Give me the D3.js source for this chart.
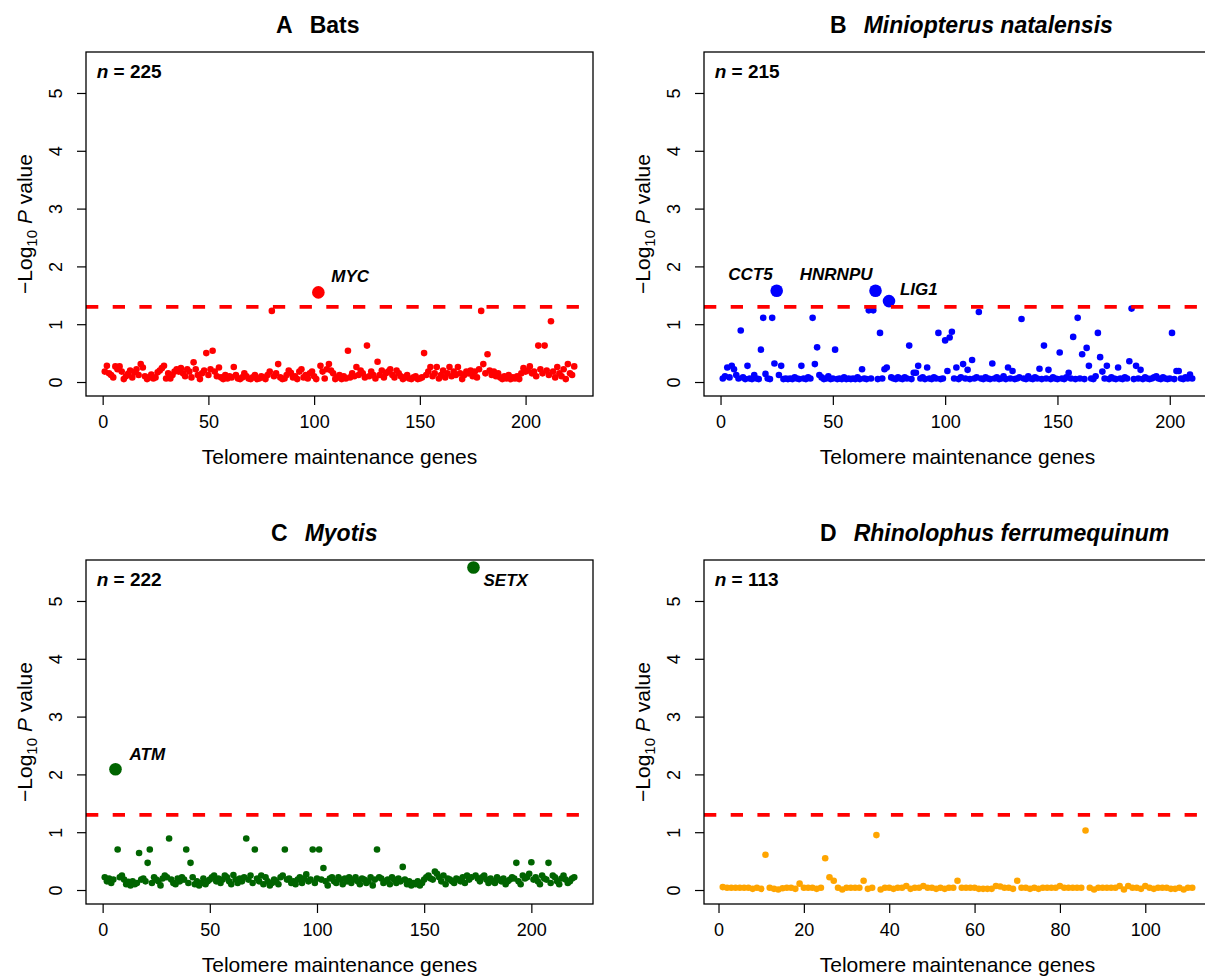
<!DOCTYPE html>
<html>
<head>
<meta charset="utf-8">
<script src="https://cdn.jsdelivr.net/npm/d3@7"></script>
<style>
  body { margin: 0; background: #fff; }
  svg text { font-family: "Liberation Sans", Arial, sans-serif; }
</style>
</head>
<body>
<div id="chart"></div>
<script>
// -log10 P values, one per telomere maintenance gene (gene index = position + 1)
const batsValues = [
  0.18, 0.28, 0.15, 0.12, 0.08, 0.27, 0.22, 0.27, 0.18, 0.05,
  0.10, 0.14, 0.20, 0.08, 0.17, 0.22, 0.12, 0.31, 0.25, 0.10,
  0.05, 0.08, 0.13, 0.06, 0.08, 0.17, 0.20, 0.24, 0.28, 0.06,
  0.15, 0.06, 0.12, 0.18, 0.22, 0.18, 0.24, 0.15, 0.10, 0.22,
  0.18, 0.08, 0.34, 0.22, 0.12, 0.05, 0.15, 0.20, 0.50, 0.12,
  0.22, 0.54, 0.18, 0.10, 0.25, 0.08, 0.05, 0.12, 0.06, 0.10,
  0.08, 0.26, 0.12, 0.06, 0.05, 0.08, 0.15, 0.10, 0.06, 0.05,
  0.08, 0.12, 0.05, 0.06, 0.10, 0.08, 0.05, 0.12, 0.18, 1.23,
  0.10, 0.15, 0.31, 0.08, 0.05, 0.06, 0.12, 0.20, 0.16, 0.08,
  0.10, 0.05, 0.18, 0.22, 0.08, 0.12, 0.06, 0.15, 0.18, 0.10,
  0.05, 1.55, 0.28, 0.18, 0.06, 0.22, 0.31, 0.20, 0.15, 0.05,
  0.08, 0.12, 0.05, 0.10, 0.06, 0.54, 0.08, 0.15, 0.10, 0.26,
  0.12, 0.20, 0.15, 0.08, 0.63, 0.10, 0.18, 0.12, 0.06, 0.35,
  0.12, 0.20, 0.08, 0.15, 0.18, 0.22, 0.12, 0.08, 0.20, 0.15,
  0.10, 0.05, 0.08, 0.12, 0.06, 0.05, 0.08, 0.10, 0.05, 0.06,
  0.08, 0.50, 0.12, 0.18, 0.26, 0.10, 0.15, 0.26, 0.06, 0.12,
  0.20, 0.08, 0.15, 0.26, 0.10, 0.18, 0.12, 0.26, 0.15, 0.05,
  0.12, 0.18, 0.15, 0.20, 0.10, 0.18, 0.08, 0.22, 1.23, 0.31,
  0.15, 0.48, 0.20, 0.12, 0.18, 0.10, 0.15, 0.08, 0.05, 0.10,
  0.06, 0.12, 0.05, 0.08, 0.06, 0.10, 0.05, 0.15, 0.24, 0.18,
  0.20, 0.27, 0.15, 0.18, 0.10, 0.63, 0.22, 0.15, 0.63, 0.20,
  0.12, 1.05, 0.18, 0.08, 0.26, 0.15, 0.10, 0.22, 0.05, 0.31,
  0.15, 0.12, 0.27
];

const miniopterusValues = [
  0.06, 0.10, 0.25, 0.08, 0.28, 0.22, 0.12, 0.06, 0.89, 0.08,
  0.05, 0.28, 0.06, 0.05, 0.12, 0.06, 0.05, 0.56, 1.11, 0.14,
  0.06, 0.05, 1.11, 0.32, 1.58, 0.12, 0.28, 0.05, 0.06, 0.05,
  0.06, 0.05, 0.08, 0.06, 0.05, 0.28, 0.06, 0.05, 0.08, 0.06,
  1.11, 0.31, 0.60, 0.12, 0.08, 0.05, 0.06, 0.10, 0.05, 0.06,
  0.56, 0.05, 0.06, 0.05, 0.08, 0.05, 0.06, 0.05, 0.06, 0.05,
  0.08, 0.05, 0.22, 0.06, 0.05, 1.24, 0.06, 1.24, 1.58, 0.05,
  0.85, 0.06, 0.22, 0.25, 1.40, 0.08, 0.06, 0.05, 0.08, 0.06,
  0.05, 0.08, 0.06, 0.63, 0.05, 0.16, 0.16, 0.28, 0.06, 0.08,
  0.05, 0.25, 0.06, 0.05, 0.08, 0.06, 0.85, 0.05, 0.06, 0.72,
  0.19, 0.77, 0.87, 0.06, 0.25, 0.05, 0.08, 0.31, 0.06, 0.21,
  0.05, 0.38, 0.06, 0.08, 1.21, 0.06, 0.05, 0.08, 0.06, 0.05,
  0.32, 0.06, 0.08, 0.05, 0.06, 0.10, 0.05, 0.25, 0.06, 0.19,
  0.05, 0.06, 0.08, 1.09, 0.06, 0.05, 0.10, 0.06, 0.05, 0.08,
  0.06, 0.23, 0.05, 0.63, 0.06, 0.21, 0.05, 0.08, 0.06, 0.05,
  0.51, 0.06, 0.05, 0.08, 0.16, 0.06, 0.78, 0.05, 1.11, 0.06,
  0.48, 0.05, 0.59, 0.28, 0.06, 0.05, 0.10, 0.85, 0.43, 0.18,
  0.06, 0.28, 0.05, 0.08, 0.06, 0.05, 0.25, 0.06, 0.05, 0.08,
  0.06, 0.36, 1.27, 0.05, 0.28, 0.06, 0.21, 0.05, 0.08, 0.06,
  0.05, 0.06, 0.08, 0.10, 0.06, 0.05, 0.08, 0.06, 0.05, 0.06,
  0.85, 0.05, 0.19, 0.19, 0.06, 0.05, 0.08, 0.06, 0.13, 0.06
];

const myotisValues = [
  0.22, 0.15, 0.20, 0.12, 0.18, 2.09, 0.70, 0.22, 0.25, 0.18,
  0.10, 0.14, 0.08, 0.15, 0.10, 0.12, 0.64, 0.18, 0.20, 0.15,
  0.47, 0.70, 0.12, 0.22, 0.18, 0.15, 0.08, 0.20, 0.25, 0.22,
  0.89, 0.18, 0.12, 0.10, 0.20, 0.15, 0.22, 0.18, 0.70, 0.12,
  0.47, 0.22, 0.10, 0.15, 0.08, 0.12, 0.20, 0.10, 0.15, 0.18,
  0.22, 0.25, 0.15, 0.20, 0.12, 0.18, 0.25, 0.22, 0.15, 0.10,
  0.26, 0.18, 0.12, 0.20, 0.15, 0.22, 0.89, 0.18, 0.25, 0.12,
  0.70, 0.20, 0.15, 0.25, 0.10, 0.22, 0.15, 0.08, 0.12, 0.18,
  0.15, 0.10, 0.22, 0.25, 0.70, 0.18, 0.20, 0.12, 0.15, 0.10,
  0.18, 0.22, 0.12, 0.20, 0.27, 0.15, 0.18, 0.70, 0.12, 0.20,
  0.70, 0.18, 0.38, 0.15, 0.08, 0.20, 0.22, 0.15, 0.12, 0.22,
  0.18, 0.10, 0.20, 0.15, 0.22, 0.12, 0.18, 0.22, 0.15, 0.10,
  0.20, 0.18, 0.12, 0.15, 0.22, 0.08, 0.18, 0.70, 0.22, 0.20,
  0.12, 0.15, 0.18, 0.10, 0.22, 0.18, 0.12, 0.20, 0.15, 0.40,
  0.18, 0.10, 0.15, 0.08, 0.12, 0.10, 0.15, 0.08, 0.12, 0.18,
  0.22, 0.25, 0.20, 0.18, 0.32, 0.28, 0.22, 0.15, 0.25, 0.10,
  0.20, 0.18, 0.15, 0.12, 0.20, 0.18, 0.15, 0.22, 0.12, 0.25,
  0.18, 0.22, 5.58, 0.25, 0.20, 0.15, 0.22, 0.25, 0.18, 0.12,
  0.20, 0.15, 0.12, 0.22, 0.18, 0.15, 0.20, 0.10, 0.15, 0.18,
  0.22, 0.20, 0.47, 0.15, 0.10, 0.25, 0.20, 0.22, 0.28, 0.48,
  0.18, 0.22, 0.15, 0.10, 0.25, 0.20, 0.18, 0.47, 0.12, 0.25,
  0.22, 0.15, 0.10, 0.20, 0.25, 0.18, 0.12, 0.15, 0.20, 0.22
];

const rhinolophusValues = [
  0.05, 0.04, 0.04, 0.04, 0.04, 0.04, 0.04, 0.02, 0.04, 0.02,
  0.61, 0.04, 0.02, 0.01, 0.03, 0.04, 0.04, 0.02, 0.11, 0.04,
  0.04, 0.04, 0.02, 0.04, 0.55, 0.22, 0.16, 0.04, 0.01, 0.04,
  0.04, 0.04, 0.04, 0.16, 0.02, 0.04, 0.95, 0.01, 0.04, 0.04,
  0.02, 0.04, 0.04, 0.07, 0.02, 0.04, 0.04, 0.07, 0.04, 0.04,
  0.02, 0.04, 0.02, 0.04, 0.04, 0.16, 0.04, 0.04, 0.04, 0.04,
  0.02, 0.02, 0.02, 0.02, 0.07, 0.06, 0.04, 0.04, 0.02, 0.16,
  0.04, 0.04, 0.02, 0.04, 0.02, 0.04, 0.04, 0.04, 0.04, 0.07,
  0.04, 0.04, 0.04, 0.04, 0.04, 1.03, 0.04, 0.01, 0.04, 0.04,
  0.04, 0.04, 0.04, 0.07, 0.01, 0.07, 0.04, 0.04, 0.02, 0.07,
  0.04, 0.02, 0.04, 0.04, 0.04, 0.02, 0.02, 0.04, 0.01, 0.04,
  0.04
];

// genes above the significance line (index is 1-based gene position)
const batsHits = [{ index: 102, gene: "MYC" }];
const miniopterusHits = [
  { index: 25, gene: "CCT5" },
  { index: 69, gene: "HNRNPU" },
  { index: 75, gene: "LIG1" }
];
const myotisHits = [
  { index: 6, gene: "ATM" },
  { index: 173, gene: "SETX" }
];
const rhinolophusHits = [];

const sampleSizes = [225, 215, 222, 113];
const panelLetters = ["A", "B", "C", "D"];
const panelNames = ["Bats", "Miniopterus natalensis", "Myotis", "Rhinolophus ferrumequinum"];
const yTicks = [0, 1, 2, 3, 4, 5];
const threshold = -Math.log10(0.05); // 1.3

const svgWidth = 1205;
const svgHeight = 976;

const svg = d3
  .select("#chart")
  .append("svg")
  .attr("width", svgWidth)
  .attr("height", svgHeight);

// label placement around a hit point (text anchor, dx, dy)
const labelPlacement = {
  MYC: ["start", 13, -10],
  CCT5: ["end", -4, -11],
  HNRNPU: ["end", -3, -11],
  LIG1: ["start", 11, -6],
  ATM: ["start", 14, -9],
  SETX: ["start", 10, 19]
};

function drawPanel(opts) {
  const { values, hits, color, left, top, letter, name, italicName, n, xTicks, titleX } = opts;
  const width = 507;
  const height = 344;

  const g = svg.append("g").attr("transform", `translate(${left},${top})`);

  // R-style 4% padding on x
  const xExt = [1, values.length];
  const pad = (xExt[1] - xExt[0]) * 0.04;
  const x = d3.scaleLinear().domain([xExt[0] - pad, xExt[1] + pad]).range([0, width]);
  const y = d3.scaleLinear().domain([-0.242, 5.709]).range([height, 0]);

  // x axis
  const xAxis = g
    .append("g")
    .attr("transform", `translate(0,${height})`)
    .call(d3.axisBottom(x).tickValues(xTicks).tickFormat(d3.format("d")).tickSize(9).tickPadding(10));
  xAxis.select(".domain").remove();
  xAxis.selectAll("line").attr("stroke", "#000").attr("stroke-width", 1.2);
  xAxis.selectAll("text").attr("font-size", 18).attr("fill", "#000")
    .style("font-family", "'Liberation Sans', Arial, sans-serif");

  // y axis, labels parallel to the axis like R
  const yAxis = g.append("g").call(d3.axisLeft(y).tickValues(yTicks).tickFormat(d3.format("d")).tickSize(9));
  yAxis.select(".domain").remove();
  yAxis.selectAll("line").attr("stroke", "#000").attr("stroke-width", 1.2);
  yAxis
    .selectAll("text")
    .attr("x", null)
    .attr("dy", null)
    .attr("font-size", 18)
    .attr("fill", "#000")
    .attr("text-anchor", "middle")
    .attr("transform", "translate(-24.5,0) rotate(-90)")
    .style("font-family", "'Liberation Sans', Arial, sans-serif");

  // points
  const data = values.map((v, i) => ({ index: i + 1, value: v }));
  const hitIdx = new Set(hits.map((h) => h.index));

  g.selectAll("circle.dot")
    .data(data)
    .enter()
    .append("circle")
    .attr("class", "dot")
    .attr("cx", (d) => x(d.index))
    .attr("cy", (d) => y(d.value))
    .attr("r", (d) => (hitIdx.has(d.index) ? 6.3 : 3.3))
    .attr("fill", color);

  // significance line
  g.append("line")
    .attr("x1", 0)
    .attr("x2", width)
    .attr("y1", y(threshold))
    .attr("y2", y(threshold))
    .attr("stroke", "#ff0000")
    .attr("stroke-width", 3.8)
    .attr("stroke-dasharray", "12.3 14.4");

  // gene labels
  hits.forEach((h) => {
    const p = labelPlacement[h.gene];
    g.append("text")
      .attr("x", x(h.index) + p[1])
      .attr("y", y(values[h.index - 1]) + p[2])
      .attr("text-anchor", p[0])
      .attr("font-size", 17)
      .attr("font-weight", "bold")
      .attr("font-style", "italic")
      .text(h.gene);
  });

  // box
  g.append("rect")
    .attr("width", width)
    .attr("height", height)
    .attr("fill", "none")
    .attr("stroke", "#000")
    .attr("stroke-width", 1.3);

  // n = ...
  const nText = g.append("text")
    .attr("x", 10.7)
    .attr("y", 25.7)
    .attr("font-size", 19)
    .attr("font-weight", "bold");
  nText.append("tspan").attr("font-style", "italic").text("n");
  nText.append("tspan").text(` = ${n}`);

  // title
  const title = svg.append("text")
    .attr("x", titleX)
    .attr("y", top - 19.2)
    .attr("font-size", 23)
    .attr("font-weight", "bold");
  title.append("tspan").text(letter);
  title.append("tspan").attr("dx", 17).attr("font-style", italicName ? "italic" : "normal").text(name);

  // axis titles
  g.append("text")
    .attr("x", width / 2)
    .attr("y", height + 67.5)
    .attr("text-anchor", "middle")
    .attr("font-size", 21)
    .text("Telomere maintenance genes");

  const yl = g.append("text")
    .attr("transform", `translate(-54.3,${height / 2}) rotate(-90)`)
    .attr("text-anchor", "middle")
    .attr("font-size", 21);
  yl.append("tspan").text("\u2212Log");
  yl.append("tspan").attr("font-size", 15).attr("dy", 5).text("10");
  yl.append("tspan").attr("dy", -5).text(" ");
  yl.append("tspan").attr("font-style", "italic").text("P");
  yl.append("tspan").text(" value");
}

drawPanel({
  values: batsValues, hits: batsHits, color: "#ff0000",
  left: 86, top: 52, letter: panelLetters[0], name: panelNames[0], italicName: false,
  n: sampleSizes[0], xTicks: [0, 50, 100, 150, 200], titleX: 276
});
drawPanel({
  values: miniopterusValues, hits: miniopterusHits, color: "#0000ff",
  left: 704, top: 52, letter: panelLetters[1], name: panelNames[1], italicName: true,
  n: sampleSizes[1], xTicks: [0, 50, 100, 150, 200], titleX: 830
});
drawPanel({
  values: myotisValues, hits: myotisHits, color: "#006400",
  left: 86, top: 560, letter: panelLetters[2], name: panelNames[2], italicName: true,
  n: sampleSizes[2], xTicks: [0, 50, 100, 150, 200], titleX: 271
});
drawPanel({
  values: rhinolophusValues, hits: rhinolophusHits, color: "#ffa500",
  left: 704, top: 560, letter: panelLetters[3], name: panelNames[3], italicName: true,
  n: sampleSizes[3], xTicks: [0, 20, 40, 60, 80, 100], titleX: 820
});
</script>
</body>
</html>
